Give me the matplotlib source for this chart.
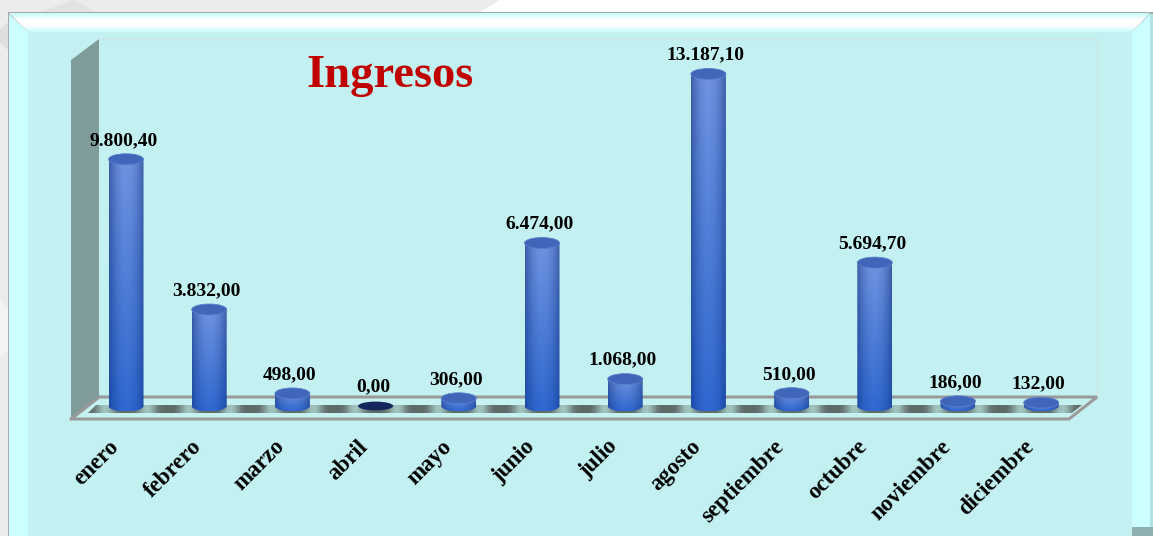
import numpy as np
import matplotlib
matplotlib.use("Agg")
import matplotlib.pyplot as plt
from matplotlib.patches import Ellipse, Polygon, Rectangle
from matplotlib.path import Path
from matplotlib.patches import PathPatch
from matplotlib.colors import LinearSegmentedColormap, to_rgb
from matplotlib.transforms import ScaledTranslation

meses = ["enero", "febrero", "marzo", "abril", "mayo", "junio", "julio",
         "agosto", "septiembre", "octubre", "noviembre", "diciembre"]
ingresos = [9800.40, 3832.00, 498.00, 0.00, 306.00, 6474.00, 1068.00,
            13187.10, 510.00, 5694.70, 186.00, 132.00]
etiquetas = ["9.800,40", "3.832,00", "498,00", "0,00", "306,00", "6.474,00",
             "1.068,00", "13.187,10", "510,00", "5.694,70", "186,00", "132,00"]
titulo = "Ingresos"

W, H = 1153, 536
SERIF = "Liberation Serif"
fig = plt.figure(figsize=(W / 100, H / 100), dpi=100, facecolor="#ececec")

# ---------- decorative backdrop in pixel coordinates ----------
bg = fig.add_axes([0, 0, 1, 1], zorder=0)
bg.set_xlim(0, W); bg.set_ylim(H, 0); bg.axis("off")


def poly(pts, **kw):
    p = Polygon(pts, closed=True, linewidth=kw.pop("lw", 0), **kw)
    bg.add_patch(p)
    return p


poly([(500, 0), (W, 0), (W, 12), (480, 12)], facecolor="#ffffff")
poly([(40, 12), (75, 0), (95, 12)], facecolor="#e2e2e2")
poly([(0, 30), (8, 22), (8, 50), (0, 42)], facecolor="#dedede")
poly([(0, 300), (8, 310), (8, 350), (0, 358)], facecolor="#f4f4f4")

# Frame
bg.add_patch(Rectangle((8, 12), W - 8, H - 12, facecolor="#a3aaaa", lw=0))
poly([(9, 14), (28, 32), (28, H), (9, H)], facecolor="#ccffff")
poly([(W - 3, 14), (1132, 32), (1132, H), (W - 3, H)], facecolor="#ccffff")
top_img = bg.imshow(np.linspace(0, 1, 20)[:, None], extent=(9, W - 3, 32, 13), aspect="auto", zorder=1.5,
                    cmap=LinearSegmentedColormap.from_list("t", ["#c9fbfb", "#ffffff", "#ffffff", "#ccfbfb"]))
top_clip = poly([(9, 13), (W - 3, 13), (1132, 32), (28, 32)], facecolor="none")
top_img.set_clip_path(top_clip)
bg.add_patch(Rectangle((W - 3, 14), 3, H - 14, facecolor="#b3e2e2", lw=0, zorder=1.6))
bg.add_patch(Rectangle((1132, 527), 21, 9, facecolor="#8fb0b0", lw=0, zorder=1.6))
bg.add_patch(Rectangle((28, 32), 1104, H - 32, facecolor="#c3f0f0", lw=0, zorder=1.7))

# Back wall outline
bg.plot([99, 1097, 1097], [39, 39, 397], color="#cfe6e6", lw=0.8, zorder=1.8)

# Floor
poly([(71, 419), (1069, 419), (1097, 397), (99, 397)], facecolor="#c6f1f1",
     edgecolor="#9a9a9a", lw=2.2, zorder=1.9)
xs = np.arange(84, 1082)
sombra = 0.5 - 0.5 * np.cos(2 * np.pi * (xs - 126) / 41.6)
sombra = sombra[None, :] ** 2 * np.array([[0.9], [0.9], [0.9], [0.9], [0.9]])
strip = bg.imshow(sombra, extent=(84, 1082, 413, 405), aspect="auto", zorder=2,
                  cmap=LinearSegmentedColormap.from_list("s", ["#5f6b68", "#a8cdc9"]), vmin=0, vmax=1)
strip_clip = poly([(88, 413), (1072, 413), (1082, 405), (96, 405)], facecolor="none")
strip.set_clip_path(strip_clip)
# Left wall
poly([(71, 60), (99, 39), (99, 397), (71, 419)], facecolor="#7f9c9a", zorder=2.1)
bg.plot([71, 99], [419, 397], color="#9a9a9a", lw=2, zorder=2.2)
bg.set_xlim(0, W); bg.set_ylim(H, 0)

# ---------- chart axes: value scale and month categories ----------
BASE_PX, TOP_PX = 406.0, 74.0
ymax = 13187.10
PX = (BASE_PX - TOP_PX) / ymax       # pixels per unit
SLOT = 83.2
LEFT_PX = 126 - SLOT / 2
MARGIN_PX = 12
ax = fig.add_axes([LEFT_PX / W, 1 - (BASE_PX + MARGIN_PX) / H, 12 * SLOT / W,
                   (BASE_PX - TOP_PX + 2 * MARGIN_PX) / H], zorder=1)
ax.patch.set_alpha(0)
ylo, yhi = -MARGIN_PX / PX, ymax + MARGIN_PX / PX
for s in ax.spines.values():
    s.set_visible(False)
ax.set_yticks([])

BAR_W = 35 / SLOT
ELL_H = 11 / PX

edge_top, mid_top = np.array(to_rgb("#3a5da6")), np.array(to_rgb("#6f93e0"))
edge_bot, mid_bot = np.array(to_rgb("#1c4aa6")), np.array(to_rgb("#3068d0"))
prof = np.sin(np.linspace(0, np.pi, 40)) ** 0.8

for i, v in enumerate(ingresos):
    x0, x1 = i - BAR_W / 2, i + BAR_W / 2
    if v > 0:
        fr = np.linspace(0, 1, 60)[:, None, None]  # 0 = top, 1 = bottom
        prof3 = prof[None, :, None]
        edge = edge_top * (1 - fr) + edge_bot * fr
        mid = mid_top * (1 - fr) + mid_bot * fr
        img = edge * (1 - prof3) + mid * prof3
        im = ax.imshow(img, extent=(x0, x1, -ELL_H / 2, v), aspect="auto", zorder=2)
        verts = [(x0, v), (x0, 0)]
        codes = [Path.MOVETO, Path.LINETO]
        k = 0.5523
        a, b = BAR_W / 2, ELL_H / 2
        verts += [(x0, -k * b), (i - k * a, -b), (i, -b),
                  (i + k * a, -b), (x1, -k * b), (x1, 0)]
        codes += [Path.CURVE4] * 6
        verts += [(x1, v), (x0, v)]
        codes += [Path.LINETO, Path.CLOSEPOLY]
        clip = PathPatch(Path(verts, codes), transform=ax.transData, facecolor="none", lw=0)
        ax.add_patch(clip)
        im.set_clip_path(clip)
        ax.add_patch(Ellipse((i, v), BAR_W, ELL_H, facecolor="#3f66b8",
                             edgecolor="#5a80cc", lw=0.6, zorder=3))
    else:
        ax.add_patch(Ellipse((i, v), BAR_W, ELL_H * 0.8, facecolor="#14275c", lw=0, zorder=3))
    ax.annotate(etiquetas[i], (i, v), xytext=(-2, 7.5), textcoords="offset points",
                ha="center", va="bottom", family=SERIF, weight="bold", fontsize=14,
                color="#000000", zorder=4, annotation_clip=False)

ax.set_ylim(ylo, yhi)
ax.set_xlim(-0.5, 11.5)

# Month labels
ax.set_xticks(range(len(meses)))
ax.set_xticklabels(meses, rotation=45, ha="right", va="top", rotation_mode="anchor",
                   family=SERIF, weight="bold", fontsize=16.5, color="#000000")
ax.tick_params(axis="x", length=0, pad=13)
off = ScaledTranslation(-18 / 100, 0, fig.dpi_scale_trans)
for lab in ax.get_xticklabels():
    lab.set_transform(lab.get_transform() + off)

# Title
fig.text(390 / W, 1 - 76 / H, titulo, ha="center", va="center", family=SERIF,
         weight="bold", fontsize=33.5, color="#c00000", zorder=5)

fig.savefig("out.png", dpi=100, facecolor=fig.get_facecolor())
